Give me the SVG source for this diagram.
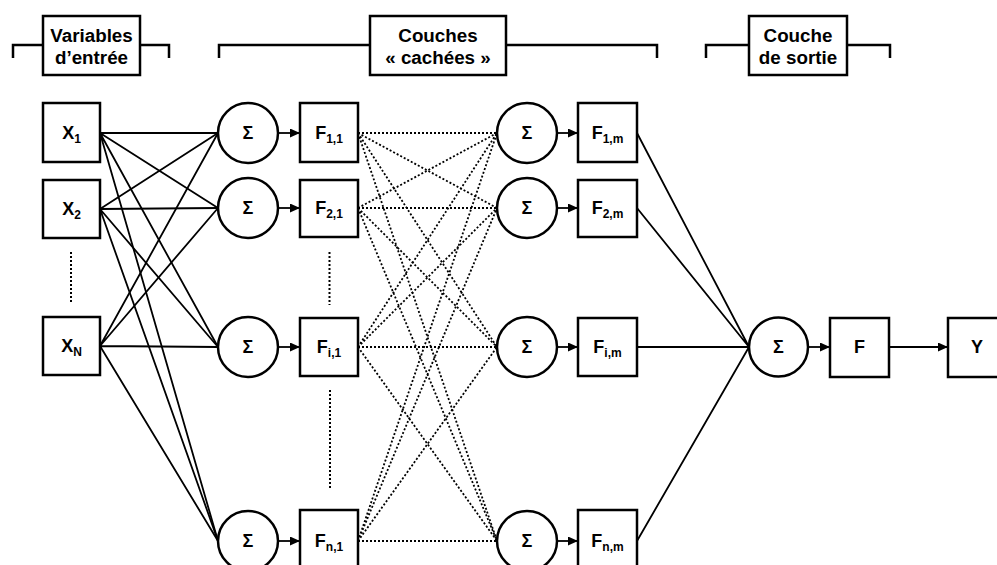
<svg xmlns="http://www.w3.org/2000/svg" width="997" height="565" viewBox="0 0 997 565">
<defs>
<marker id="ah" markerUnits="userSpaceOnUse" markerWidth="11" markerHeight="10" refX="10" refY="4.5" orient="auto">
<path d="M0,0 L10,4.5 L0,9 z" fill="#000"/>
</marker>
</defs>
<style>
.box{fill:#fff;stroke:#000;stroke-width:2.5}
.circ{fill:#fff;stroke:#000;stroke-width:2.5}
.br{fill:none;stroke:#000;stroke-width:2.5}
.s{stroke:#000;stroke-width:1.8;fill:none}
.d{stroke:#000;stroke-width:1.8;fill:none;stroke-dasharray:2 2}
.vd{stroke:#000;stroke-width:2;fill:none;stroke-dasharray:2 2}
.a{stroke:#000;stroke-width:1.8;fill:none;marker-end:url(#ah)}
text{font-family:"Liberation Sans",Arial,sans-serif;font-weight:bold;fill:#000;text-anchor:middle}
.t{font-size:18.8px}
.n{font-size:18px}
.sub{font-size:12px}
.sig{font-size:18px}
</style>
<rect width="997" height="565" fill="#fff"/>

<g id="headers">
<path class="br" d="M13,58 V45 H43 M140,45 H169 V58"/>
<path class="br" d="M219,58 V45 H370 M506,45 H657 V58"/>
<path class="br" d="M706,58 V45 H749 M847,45 H890 V58"/>
</g>
<g id="hdr-input">
<rect class="box" x="43" y="16" width="97" height="59"/>
<text class="t" x="91.5" y="42">Variables</text>
<text class="t" x="91.5" y="64">d’entrée</text>
</g>
<g id="hdr-hidden">
<rect class="box" x="370" y="16" width="136" height="59"/>
<text class="t" x="438" y="42">Couches</text>
<text class="t" x="438" y="64">« cachées »</text>
</g>
<g id="hdr-output">
<rect class="box" x="749" y="16" width="98" height="59"/>
<text class="t" x="798" y="42">Couche</text>
<text class="t" x="798" y="64">de sortie</text>
</g>

<g id="connectors">
<path class="s" d="M100,133 L218,133 M100,133 L218,208 M100,133 L218,347 M100,133 L218,541"/>
<path class="s" d="M100,209 L218,133 M100,209 L218,208 M100,209 L218,347 M100,209 L218,541"/>
<path class="s" d="M100,346 L218,133 M100,346 L218,208 M100,346 L218,347 M100,346 L218,541"/>
<line class="a" x1="278" y1="133" x2="300" y2="133"/>
<line class="a" x1="278" y1="208" x2="300" y2="208"/>
<line class="a" x1="278" y1="347" x2="300" y2="347"/>
<line class="a" x1="278" y1="541" x2="300" y2="541"/>
<path class="d" d="M358,133 L497,133 M358,133 L497,208 M358,133 L497,347 M358,133 L497,541"/>
<path class="d" d="M358,208 L497,133 M358,208 L497,208 M358,208 L497,347 M358,208 L497,541"/>
<path class="d" d="M358,347 L497,133 M358,347 L497,208 M358,347 L497,347 M358,347 L497,541"/>
<path class="d" d="M358,541 L497,133 M358,541 L497,208 M358,541 L497,347 M358,541 L497,541"/>
<line class="a" x1="557" y1="133" x2="578" y2="133"/>
<line class="a" x1="557" y1="208" x2="578" y2="208"/>
<line class="a" x1="557" y1="347" x2="578" y2="347"/>
<line class="a" x1="557" y1="541" x2="578" y2="541"/>
<path class="s" d="M637,133 L749,347 M637,208 L749,347 M637,347 L749,347 M637,541 L749,347"/>
<line class="a" x1="808" y1="347" x2="830" y2="347"/>
<line class="a" x1="889" y1="347" x2="948" y2="347"/>
<path class="vd" d="M71,252 V304"/>
<path class="vd" d="M329.5,252 V305"/>
<path class="vd" d="M330,390 V490"/>
</g>

<g id="x1"><rect class="box" x="43" y="103" width="57" height="59"/><text class="n" x="71.5" y="139">X<tspan class="sub" dy="4">1</tspan></text></g>
<g id="x2"><rect class="box" x="43" y="180" width="57" height="58"/><text class="n" x="71.5" y="215">X<tspan class="sub" dy="4">2</tspan></text></g>
<g id="xn"><rect class="box" x="43" y="317" width="57" height="58"/><text class="n" x="71.5" y="352">X<tspan class="sub" dy="4">N</tspan></text></g>

<g id="s11"><circle class="circ" cx="248" cy="133" r="30"/><text class="sig" x="248" y="139">Σ</text></g>
<g id="s21"><circle class="circ" cx="248" cy="208" r="30"/><text class="sig" x="248" y="214">Σ</text></g>
<g id="si1"><circle class="circ" cx="248" cy="347" r="30"/><text class="sig" x="248" y="353">Σ</text></g>
<g id="sn1"><circle class="circ" cx="248" cy="541" r="30"/><text class="sig" x="248" y="547">Σ</text></g>

<g id="f11"><rect class="box" x="300" y="103" width="58" height="59"/><text class="n" x="329" y="139">F<tspan class="sub" dy="4">1,1</tspan></text></g>
<g id="f21"><rect class="box" x="300" y="180" width="58" height="57"/><text class="n" x="329" y="214">F<tspan class="sub" dy="4">2,1</tspan></text></g>
<g id="fi1"><rect class="box" x="300" y="318" width="58" height="58"/><text class="n" x="329" y="353">F<tspan class="sub" dy="4">i,1</tspan></text></g>
<g id="fn1"><rect class="box" x="300" y="510" width="58" height="60"/><text class="n" x="329" y="547">F<tspan class="sub" dy="4">n,1</tspan></text></g>

<g id="s1m"><circle class="circ" cx="527" cy="133" r="30"/><text class="sig" x="527" y="139">Σ</text></g>
<g id="s2m"><circle class="circ" cx="527" cy="208" r="30"/><text class="sig" x="527" y="214">Σ</text></g>
<g id="sim"><circle class="circ" cx="527" cy="347" r="30"/><text class="sig" x="527" y="353">Σ</text></g>
<g id="snm"><circle class="circ" cx="527" cy="541" r="30"/><text class="sig" x="527" y="547">Σ</text></g>

<g id="f1m"><rect class="box" x="578" y="103" width="59" height="59"/><text class="n" x="607.5" y="139">F<tspan class="sub" dy="4">1,m</tspan></text></g>
<g id="f2m"><rect class="box" x="578" y="180" width="59" height="57"/><text class="n" x="607.5" y="214">F<tspan class="sub" dy="4">2,m</tspan></text></g>
<g id="fim"><rect class="box" x="578" y="318" width="59" height="58"/><text class="n" x="607.5" y="353">F<tspan class="sub" dy="4">i,m</tspan></text></g>
<g id="fnm"><rect class="box" x="578" y="510" width="59" height="60"/><text class="n" x="607.5" y="547">F<tspan class="sub" dy="4">n,m</tspan></text></g>

<g id="sout"><circle class="circ" cx="778.5" cy="347" r="29.5"/><text class="sig" x="778.5" y="353">Σ</text></g>
<g id="fout"><rect class="box" x="830" y="318" width="59" height="59"/><text class="n" x="859.5" y="353">F</text></g>
<g id="y"><rect class="box" x="948" y="318" width="58" height="59"/><text class="n" x="977" y="353">Y</text></g>
</svg>
